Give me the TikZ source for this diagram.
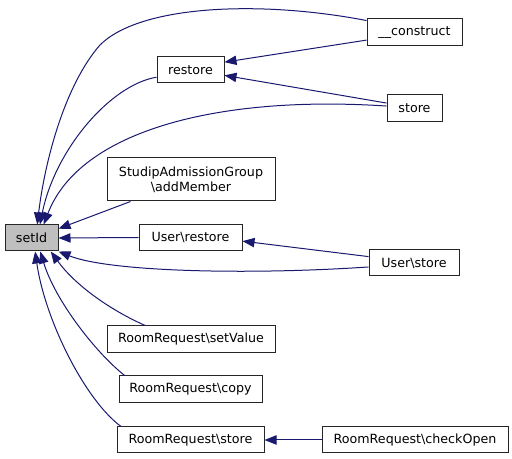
\documentclass[tikz,border=0pt]{standalone}
\usepackage{fontspec}
\setmainfont{DejaVu Sans}
\usepackage{tikz}
\usetikzlibrary{arrows.meta,positioning}

\definecolor{edgeblue}{HTML}{191970}
\definecolor{focusgray}{HTML}{BFBFBF}
\tikzset{
  fn/.style={draw=black!85, line width=0.75pt, minimum height=19.5pt, inner sep=0pt,
    align=center, font=\fontsize{9.5pt}{11.5pt}\selectfont},
  call/.style={draw=edgeblue, line width=0.75pt, -{Triangle[length=9pt,width=7pt]}, edgeblue}
}

\begin{document}
\begin{tikzpicture}[x=0.75pt, y=-0.75pt]
    \useasboundingbox (0,0) rectangle (512,459);

    % the function itself
    \node[fn, fill=focusgray, minimum width=39.75pt] (setId) at (31.5,238) {setId};

    % callers
    \node[fn, minimum width=50.25pt] (restore) at (190.5,70) {restore};
    \node[fn, minimum width=71.25pt, minimum height=20.25pt] (construct) at (414.5,32.5) {\_\_construct};
    \node[fn, minimum width=41.25pt, minimum height=20.25pt] (store) at (414.5,108.5) {store};
    \node[fn, minimum width=126pt, minimum height=32.25pt] (addMember) at (191,179.5) {StudipAdmissionGroup\\\textbackslash addMember};
    \node[fn, minimum width=77.25pt] (userRestore) at (190.5,237.5) {User\textbackslash restore};
    \node[fn, minimum width=67.5pt] (userStore) at (414,263) {User\textbackslash store};
    \node[fn, minimum width=126pt, minimum height=20.25pt] (setValue) at (191,339.5) {RoomRequest\textbackslash setValue};
    \node[fn, minimum width=107.25pt, minimum height=20.25pt] (copy) at (190.5,389.5) {RoomRequest\textbackslash copy};
    \node[fn, minimum width=110.25pt] (rrStore) at (190.5,440) {RoomRequest\textbackslash store};
    \node[fn, minimum width=139.5pt] (checkOpen) at (415,440) {RoomRequest\textbackslash checkOpen};

    % calls into setId
    \draw[call] (construct.166) .. controls (260,0) and (140,5) .. (100,45)
        .. controls (65,85) and (45,160) .. (setId.67);
    \draw[call] (restore.192) .. controls (110,85) and (55,150) .. (setId.58);
    \draw[call] (store.175) .. controls (220,95) and (80,130) .. (setId.48);
    \draw[call] (addMember.200) -- (setId.19);
    \draw[call] (userRestore.west) -- (setId.east);
    \draw[call] (userStore.185) .. controls (250,275) and (110,272) .. (setId.south east);
    \draw[call] (setValue.163) .. controls (110,310) and (75,285) .. (setId.325);
    \draw[call] (copy.168) .. controls (95,352) and (55,300) .. (setId.303);
    \draw[call] (rrStore.169) .. controls (85,400) and (45,320) .. (setId.285);

    % calls between callers
    \draw[call] (construct.189) -- (restore.13);
    \draw[call] (store.169) -- (restore.351);
    \draw[call] (userStore.172) -- (userRestore.356);
    \draw[call] (checkOpen.west) -- (rrStore.east);
\end{tikzpicture}
\end{document}
